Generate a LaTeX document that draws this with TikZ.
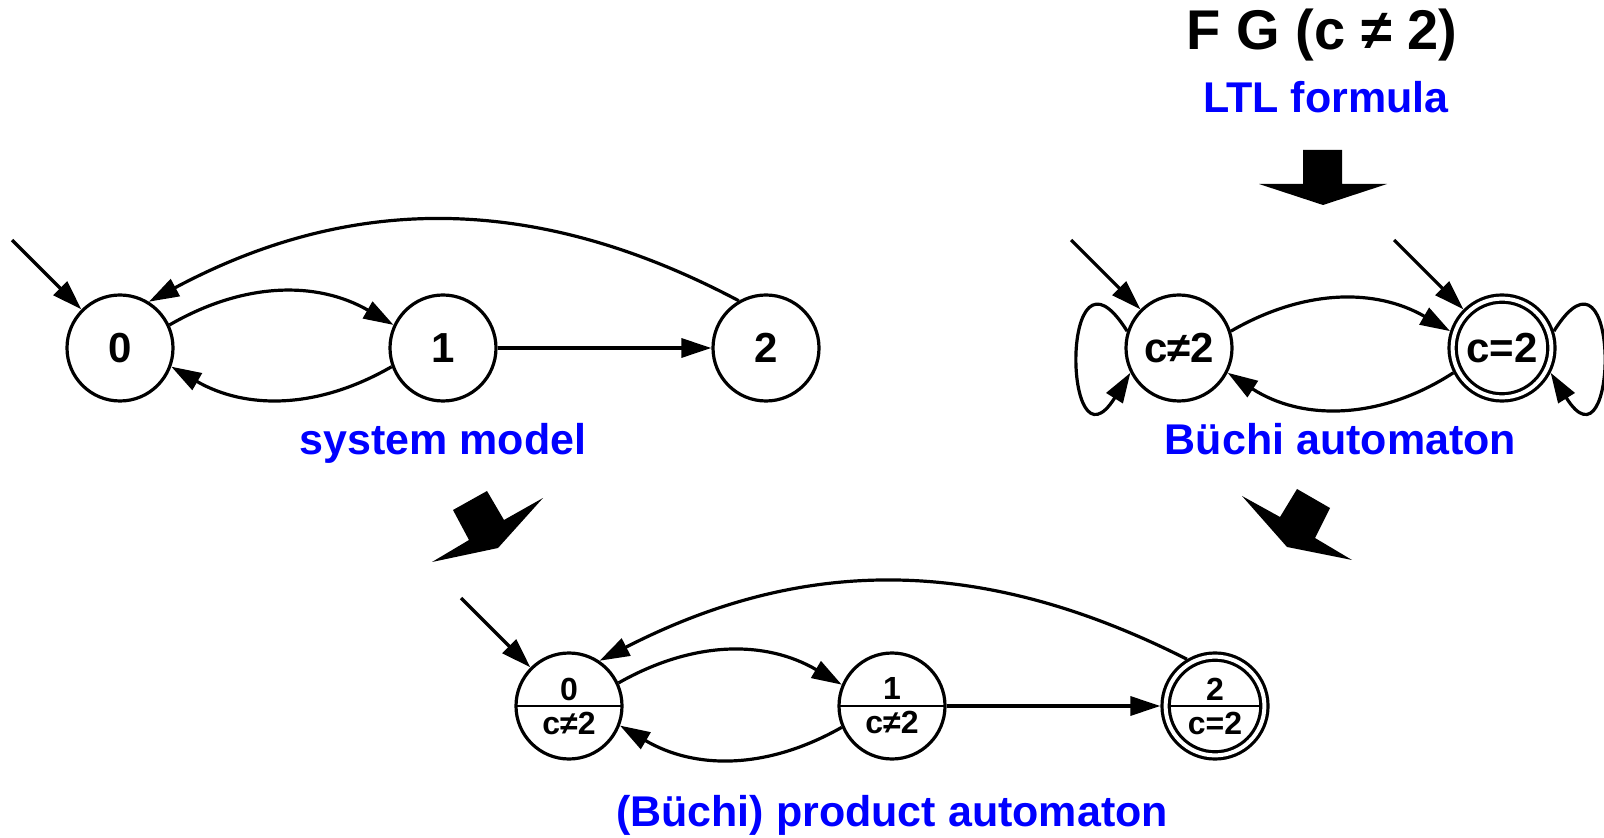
\documentclass[tikz,border=0pt]{standalone}
\usepackage{fontspec}
\setmainfont{Liberation Sans}
\usetikzlibrary{arrows.meta,positioning,calc}
\definecolor{capblue}{RGB}{0,0,255}

\begin{document}
\begin{tikzpicture}[
    font=\bfseries,
    node distance=161.5pt, on grid,
    mstate/.style={circle,draw,line width=1.6pt,minimum size=53pt,inner sep=0pt,
                   font=\fontsize{21}{25}\selectfont\bfseries},
    accept/.style={double,double distance=2pt,minimum size=49.4pt,outer sep=2.6pt},
    pstate/.style={mstate,align=center,font=\fontsize{16}{17}\selectfont\bfseries,
                   path picture={\draw[line width=0.6pt] (path picture bounding box.west) -- (path picture bounding box.east);}},
    caption/.style={text=capblue,anchor=base,font=\fontsize{21.5}{26}\selectfont\bfseries},
    arrow/.style={-{Triangle[length=15pt,width=9.5pt]},line width=1.6pt},
    fat/.style={fill=black}
  ]
  \clip (0,0) rectangle (802pt,-419pt);

  % system model
  \node[mstate] (s0) at (60pt,-174pt) {0};
  \node[mstate,right=of s0] (s1) {1};
  \node[mstate,right=of s1] (s2) {2};
  \node[caption] (cap1) at ([yshift=-53.5pt]s1) {system model};

  % formula and Buchi automaton
  \node[anchor=base,font=\fontsize{28}{32}\selectfont\bfseries] (ltl) at (661pt,-25pt) {F G (c ≠ 2)};
  \node[caption] (ltlcap) at (663pt,-56.5pt) {LTL formula};
  \node[mstate] (b0) at (589.5pt,-174pt) {c≠2};
  \node[mstate,accept,right=of b0] (b1) {c=2};
  \node[caption] (cap2) at ($($(b0)!0.5!(b1)$)+(0,-53.5pt)$) {Büchi automaton};

  % product
  \node[pstate] (p0) at (284.5pt,-353pt) {0\\c≠2};
  \node[pstate,right=of p0] (p1) {1\\c≠2};
  \node[pstate,accept,right=of p1] (p2) {2\\c=2};
  \node[caption] (cap3) at ([yshift=-60pt]p1) {(Büchi) product automaton};

  % initial states
  \coordinate (i0) at ([shift={(135:49pt)}]s0.135);
  \coordinate (ib0) at ([shift={(135:49pt)}]b0.135);
  \coordinate (ib1) at ([shift={(135:49pt)}]b1.135);
  \coordinate (ip0) at ([shift={(135:49pt)}]p0.135);
  \draw[arrow] (i0) -- (s0.135);
  \draw[arrow] (ib0) -- (b0.135);
  \draw[arrow] (ib1) -- (b1.135);
  \draw[arrow] (ip0) -- (p0.135);

  \draw[arrow] (s0.25) to[bend left=30] (s1.155);
  \draw[arrow] (s1.200) to[bend left=30] (s0.-20);
  \draw[arrow] (s1) -- (s2);
  \draw[arrow] (s2.120) to[bend right=28] (s0.58);

  \draw[arrow] (b0.18) to[bend left=30] (b1.162);
  \draw[arrow] (b1.207) to[bend left=33] (b0.-27);
  \draw[arrow] (b0.162) to[out=122,in=238,distance=64pt] (b0.207);
  \draw[arrow] (b1.18) to[out=58,in=-58,distance=64pt] (b1.-27);

  \draw[arrow] (p0.25) to[bend left=30] (p1.157);
  \draw[arrow] (p1.203) to[bend left=30] (p0.-21);
  \draw[arrow] (p1) -- (p2);
  \draw[arrow] (p2.121) to[bend right=27] (p0.56);

  % fat arrows
  \begin{scope}[x=0.5pt,y=-0.5pt]
    \fill[fat] (1303,150) -- (1342,150) -- (1342,184) -- (1387,184) -- (1323,205) -- (1259,184) -- (1303,184) -- cycle;
    \fill[fat] (453,510) -- (487,491) -- (504,520) -- (543,498) -- (498,548) -- (432,562) -- (469,540) -- cycle;
    \fill[fat] (1242,496) -- (1280,517) -- (1297,489) -- (1330,508) -- (1315,538) -- (1352,560) -- (1287,547) -- cycle;
  \end{scope}
\end{tikzpicture}
\end{document}
